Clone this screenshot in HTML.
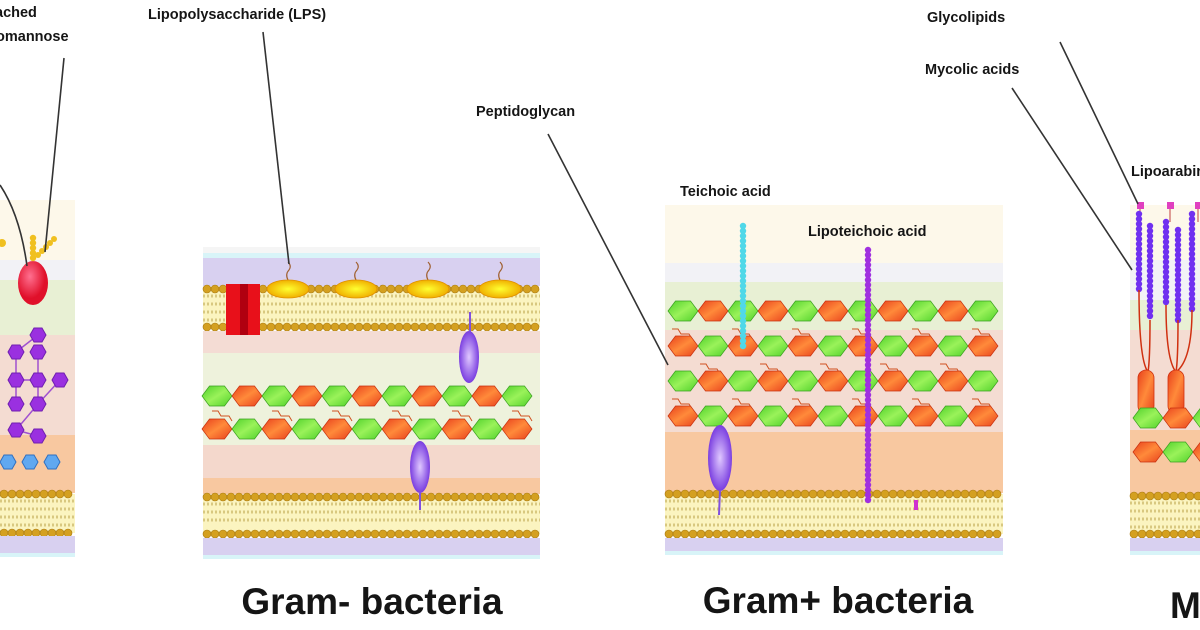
<!DOCTYPE html>
<html><head><meta charset="utf-8"><style>
html,body{margin:0;padding:0;background:#fff;width:1200px;height:630px;overflow:hidden}
svg{display:block}
text{font-family:"Liberation Sans",Arial,sans-serif;font-weight:bold;fill:#151515}
</style></head><body>
<svg id="s" width="1200" height="630" viewBox="0 0 1200 630" xmlns="http://www.w3.org/2000/svg">
<defs>
<linearGradient id="hr" x1="0" y1="0" x2="1" y2="1"><stop offset="0" stop-color="#e8401c"/><stop offset="0.5" stop-color="#ff8a3a"/><stop offset="1" stop-color="#e8401c"/></linearGradient>
<linearGradient id="hg" x1="0" y1="0" x2="1" y2="1"><stop offset="0" stop-color="#4fd12a"/><stop offset="0.5" stop-color="#9af25a"/><stop offset="1" stop-color="#4fd12a"/></linearGradient>
<radialGradient id="pe"><stop offset="0" stop-color="#e0c8ff"/><stop offset="1" stop-color="#7a3ee0"/></radialGradient>
<radialGradient id="ye"><stop offset="0" stop-color="#ffff30"/><stop offset="1" stop-color="#f0b000"/></radialGradient>
<radialGradient id="re" cx="0.4" cy="0.35"><stop offset="0" stop-color="#ff7090"/><stop offset="1" stop-color="#e0102a"/></radialGradient>
</defs>
<g id="g"></g>
<!-- labels -->
<text x="-5" y="17" font-size="14.5">ached</text>
<text x="-4" y="41" font-size="14.5">omannose</text>
<text x="148" y="19" font-size="14.5">Lipopolysaccharide (LPS)</text>
<text x="476" y="116" font-size="14.5">Peptidoglycan</text>
<text x="680" y="196" font-size="14.5">Teichoic acid</text>
<text x="808" y="236" font-size="14.5">Lipoteichoic acid</text>
<text x="927" y="22" font-size="14.5">Glycolipids</text>
<text x="925" y="74" font-size="14.5">Mycolic acids</text>
<text x="1131" y="176" font-size="14.5">Lipoarabinomannan</text>
<text x="372" y="614" font-size="37" text-anchor="middle">Gram- bacteria</text>
<text x="838" y="613" font-size="37" text-anchor="middle">Gram+ bacteria</text>
<text x="1170" y="618" font-size="37">M</text>
<g stroke="#333" stroke-width="1.6" fill="none">
<line x1="64" y1="58" x2="45" y2="252"/>
<path d="M0 185 Q20 215 27 266"/>
<line x1="263" y1="32" x2="289" y2="264"/>
<line x1="548" y1="134" x2="668" y2="365"/>
<line x1="1060" y1="42" x2="1138" y2="204"/>
<line x1="1012" y1="88" x2="1132" y2="270"/>
</g>
</svg>
<script>
const g=document.getElementById('g');const NS='http://www.w3.org/2000/svg';
function el(t,a){const e=document.createElementNS(NS,t);for(const k in a)e.setAttribute(k,a[k]);g.appendChild(e);return e;}
function rect(x,y,w,h,f){el('rect',{x,y,width:w,height:h,fill:f});}
function mem(x0,x1,y0,y1){rect(x0,y0,x1-x0,y1-y0,'#fbf4c0');
 for(let y=y0+7;y<y1-6;y+=8)el('line',{x1:x0,y1:y,x2:x1,y2:y,stroke:'#d8c880','stroke-width':3,'stroke-dasharray':'2 2'});
 for(const yy of [y0,y1])for(let x=x0+4;x<x1;x+=8)el('circle',{cx:x,cy:yy,r:4,fill:'#d4a020',stroke:'#a87810','stroke-width':0.6});}
function hex(cx,cy,c){const w=15,h=10;el('polygon',{points:`${cx-w},${cy} ${cx-w/2},${cy-h} ${cx+w/2},${cy-h} ${cx+w},${cy} ${cx+w/2},${cy+h} ${cx-w/2},${cy+h}`,fill:c?'url(#hr)':'url(#hg)',stroke:c?'#c83010':'#3aa020','stroke-width':0.7});}
function hrow(x0,y,n,startRed){for(let i=0;i<n;i++)hex(x0+i*30,y,(i%2==0)==startRed);}
function links(x0,y,n){for(let i=0;i<n;i++){const x=x0+i*60;el('path',{d:`M${x} ${y} h6 l3 5 h8 l3 5`,stroke:'#d05020',fill:'none','stroke-width':1});}}
function chain(x,y0,y1,c){for(let y=y0;y<=y1;y+=5)el('circle',{cx:x,cy:y,r:3.2,fill:c});}
// ---- Gram- panel
let X0=203,X1=540;
rect(X0,247,X1-X0,10,'#f5f5f5');rect(X0,253,X1-X0,5,'#d8f4f8');rect(X0,258,X1-X0,28,'#d8d0f0');
mem(X0,X1,289,327);
rect(X0,331,X1-X0,22,'#f4dcd4');rect(X0,353,X1-X0,92,'#eef2dc');rect(X0,445,X1-X0,33,'#f4d8cc');rect(X0,478,X1-X0,16,'#f8c8a0');
mem(X0,X1,497,534);
rect(X0,538,X1-X0,17,'#d8d0f0');rect(X0,555,X1-X0,4,'#d8f4f8');
links(212,411,6);hrow(217,396,11,false);hrow(217,429,11,true);
rect(226,284,34,51,'#e8101a');rect(240,284,8,51,'#b00010');
for(const x of [288,356,428,500]){el('path',{d:`M${x} 280 q-3 -6 1 -10 q3 -4 -1 -8`,stroke:'#a06030',fill:'none','stroke-width':1.2});el('ellipse',{cx:x,cy:289,rx:21,ry:9,fill:'url(#ye)',stroke:'#e09000','stroke-width':0.8});}
el('ellipse',{cx:469,cy:357,rx:10,ry:26,fill:'url(#pe)'});el('line',{x1:470,y1:312,x2:470,y2:332,stroke:'#8050e0','stroke-width':2});
el('ellipse',{cx:420,cy:467,rx:10,ry:26,fill:'url(#pe)'});el('line',{x1:420,y1:492,x2:420,y2:510,stroke:'#8050e0','stroke-width':2});
// ---- Gram+ panel
X0=665;X1=1003;
rect(X0,205,X1-X0,58,'#fdf8ea');rect(X0,263,X1-X0,19,'#f2f2f6');rect(X0,282,X1-X0,48,'#e8f0d4');rect(X0,330,X1-X0,102,'#f4dcd2');rect(X0,432,X1-X0,61,'#f8c8a0');
mem(X0,X1,494,534);rect(X0,538,X1-X0,13,'#d8d0f0');rect(X0,551,X1-X0,4,'#d8f4f8');
links(672,329,6);links(700,364,5);links(672,399,6);
hrow(683,311,11,false);hrow(683,346,11,true);hrow(683,381,11,false);hrow(683,416,11,true);
chain(743,226,346,'#50d8e8');chain(868,250,500,'#a030e0');
el('ellipse',{cx:720,cy:458,rx:12,ry:33,fill:'url(#pe)'});el('line',{x1:720,y1:490,x2:719,y2:515,stroke:'#8050e0','stroke-width':2});
el('rect',{x:914,y:500,width:4,height:10,fill:'#d030d0'});
// ---- left partial
X0=0;X1=75;
rect(X0,200,X1,60,'#fdf8ea');rect(X0,260,X1,20,'#f2f2f6');rect(X0,280,X1,55,'#e8f0d4');rect(X0,335,X1,100,'#f4dcd2');rect(X0,435,X1,58,'#f8c8a0');
mem(X0,X1,494,533);rect(X0,536,X1,17,'#d8d0f0');rect(X0,553,X1,4,'#d8f4f8');
el('ellipse',{cx:33,cy:283,rx:15,ry:22,fill:'url(#re)'});
chain(33,238,262,'#f0c020');for(let i=0;i<5;i++){el('circle',{cx:38+i*4,cy:255-i*4,r:3,fill:'#f0c020'});}el('circle',{cx:2,cy:243,r:4,fill:'#f0c020'});
const ph=[[38,335],[16,352],[38,352],[16,380],[38,380],[60,380],[16,404],[38,404],[16,430],[38,436]];
el('path',{d:'M38 335 L16 352 L16 380 L38 380 L38 352 M38 380 L38 404 L16 430 M38 404 L60 380 M16 380 L16 404 M16 430 L38 436',stroke:'#a050d0',fill:'none','stroke-width':1.5});
for(const [x,y] of ph){const w=8,h=7;el('polygon',{points:`${x-w},${y} ${x-w/2},${y-h} ${x+w/2},${y-h} ${x+w},${y} ${x+w/2},${y+h} ${x-w/2},${y+h}`,fill:'#9a30e0',stroke:'#7020b0'});}
for(const x of [8,30,52]){el('polygon',{points:`${x-8},462 ${x-4},455 ${x+4},455 ${x+8},462 ${x+4},469 ${x-4},469`,fill:'#60a8f0',stroke:'#3070c0'});}
// ---- right partial
X0=1130;X1=1200;
rect(X0,205,70,55,'#fdf8ea');rect(X0,260,70,40,'#f2f2f6');rect(X0,300,70,30,'#e8f0d4');rect(X0,330,70,100,'#f4dcd2');rect(X0,430,70,65,'#f8c8a0');
mem(X0,X1,496,534);rect(X0,538,70,13,'#d8d0f0');rect(X0,551,70,4,'#d8f4f8');
for(const x of [1140,1170,1198]){el('rect',{x:x-3,y:202,width:7,height:7,fill:'#e040c0'});el('line',{x1:x,y1:209,x2:x,y2:222,stroke:'#c04040'});}
for(const [x,y0,y1] of [[1139,214,290],[1150,226,320],[1166,222,305],[1178,230,320],[1192,214,310]]){chain(x,y0,y1,'#7030f0');el('path',{d:`M${x} ${y1} Q${x} 360 ${x<1160?1148:1176} 372`,stroke:'#d03010',fill:'none','stroke-width':1.5});}
for(const x of [1146,1176]){el('rect',{x:x-8,y:370,width:16,height:44,rx:8,fill:'url(#hr)',stroke:'#d03010','stroke-width':0.8});}
hrow(1148,418,3,false);hrow(1148,452,3,true);
</script>
</body></html>
